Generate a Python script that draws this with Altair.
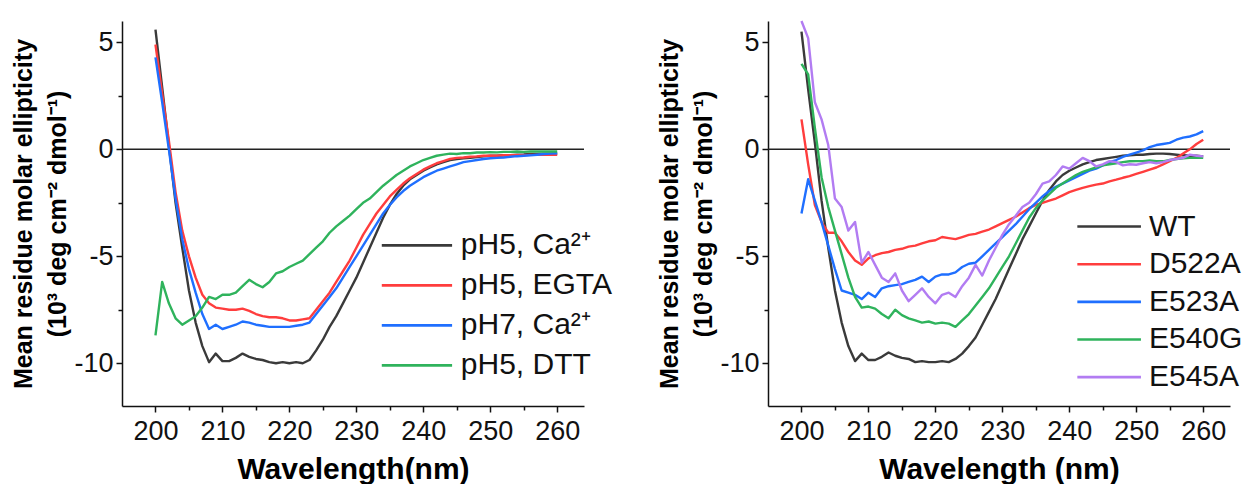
import altair as alt
import pandas as pd

wavelength = list(range(200, 261))

left_names = ["pH5, Ca²⁺", "pH5, EGTA", "pH7, Ca²⁺", "pH5, DTT"]
left_colors = ["#3a3a3a", "#ff3d3d", "#1f6fff", "#2fb35c"]

ph5_ca = [5.6, 2.9, 0.2, -2.5, -4.6, -6.6, -8.1, -9.2, -9.95, -9.55,
          -9.9, -9.9, -9.75, -9.55, -9.7, -9.8, -9.85, -9.95, -10.0, -9.95,
          -10.0, -9.95, -10.0, -9.85, -9.4, -8.9, -8.3, -7.8, -7.2, -6.6,
          -6.0, -5.3, -4.6, -3.9, -3.2, -2.6, -2.1, -1.7, -1.4, -1.2,
          -1.0, -0.85, -0.7, -0.6, -0.5, -0.45, -0.42, -0.4, -0.36, -0.33,
          -0.3, -0.3, -0.28, -0.27, -0.25, -0.24, -0.22, -0.22, -0.2, -0.2,
          -0.2]
ph5_egta = [4.9, 2.6, 0.4, -2.0, -3.8, -5.0, -6.0, -6.8, -7.2, -7.4,
            -7.45, -7.5, -7.5, -7.45, -7.55, -7.7, -7.8, -7.85, -7.85, -7.9,
            -8.0, -8.0, -7.95, -7.9, -7.5, -7.1, -6.7, -6.2, -5.7, -5.2,
            -4.6, -4.0, -3.5, -3.0, -2.6, -2.2, -1.9, -1.6, -1.35, -1.15,
            -0.95, -0.8, -0.65, -0.55, -0.45, -0.4, -0.38, -0.35, -0.33, -0.3,
            -0.3, -0.3, -0.28, -0.28, -0.27, -0.27, -0.26, -0.26, -0.25, -0.25,
            -0.25]
ph7_ca = [4.3, 2.2, 0.0, -2.3, -4.2, -5.6, -6.7, -7.7, -8.4, -8.2,
          -8.4, -8.3, -8.2, -8.05, -8.1, -8.2, -8.25, -8.3, -8.3, -8.3,
          -8.3, -8.25, -8.2, -8.1, -7.7, -7.3, -6.9, -6.5, -6.0, -5.5,
          -5.0, -4.5, -4.0, -3.5, -3.0, -2.6, -2.25, -1.95, -1.7, -1.5,
          -1.3, -1.15, -1.0, -0.9, -0.8, -0.7, -0.6, -0.55, -0.5, -0.45,
          -0.42, -0.4, -0.38, -0.35, -0.32, -0.3, -0.28, -0.25, -0.22, -0.2,
          -0.18]
ph5_dtt = [-8.7, -6.2, -7.2, -7.9, -8.2, -8.0, -7.8, -7.4, -6.9, -7.0,
           -6.8, -6.8, -6.7, -6.4, -6.1, -6.3, -6.45, -6.2, -5.8, -5.7,
           -5.5, -5.35, -5.2, -4.9, -4.6, -4.3, -3.9, -3.6, -3.35, -3.1,
           -2.8, -2.5, -2.3, -2.0, -1.7, -1.45, -1.2, -1.0, -0.8, -0.65,
           -0.5, -0.4, -0.3, -0.25, -0.2, -0.22, -0.18, -0.18, -0.15, -0.15,
           -0.13, -0.14, -0.12, -0.12, -0.1, -0.12, -0.1, -0.1, -0.1, -0.1,
           -0.1]

right_names = ["WT", "D522A", "E523A", "E540G", "E545A"]
right_colors = ["#3a3a3a", "#ff3d3d", "#1f6fff", "#2fb35c", "#b27cf2"]

wt = [5.5, 2.8, 0.3, -2.4, -4.6, -6.6, -8.1, -9.2, -9.9, -9.55,
      -9.85, -9.85, -9.7, -9.5, -9.65, -9.75, -9.8, -9.95, -9.9, -9.95,
      -9.95, -9.9, -9.95, -9.8, -9.55, -9.2, -8.8, -8.2, -7.6, -7.0,
      -6.3, -5.6, -4.9, -4.2, -3.6, -3.0, -2.4, -1.9, -1.5, -1.2,
      -1.0, -0.85, -0.7, -0.6, -0.5, -0.45, -0.4, -0.35, -0.3, -0.28,
      -0.25, -0.25, -0.22, -0.2, -0.2, -0.22, -0.25, -0.28, -0.3, -0.3,
      -0.33]
d522a = [1.4, -0.7, -2.6, -3.4, -3.9, -3.9, -4.3, -4.8, -5.2, -5.4,
         -5.1, -4.95, -4.85, -4.8, -4.7, -4.65, -4.55, -4.5, -4.4, -4.3,
         -4.25, -4.1, -4.15, -4.2, -4.1, -4.0, -3.95, -3.85, -3.75, -3.6,
         -3.45, -3.3, -3.15, -2.95, -2.75, -2.6, -2.5, -2.4, -2.3, -2.15,
         -2.0, -1.9, -1.8, -1.72, -1.65, -1.6, -1.5, -1.42, -1.33, -1.25,
         -1.15, -1.05, -0.95, -0.85, -0.7, -0.55, -0.4, -0.2, 0.0, 0.25,
         0.45]
e523a = [-3.0, -1.4, -2.4, -3.4, -4.5, -5.6, -6.6, -6.7, -6.8, -7.0,
         -6.7, -6.9, -6.5, -6.4, -6.35, -6.3, -6.2, -6.1, -5.95, -6.2,
         -5.95, -5.85, -5.85, -5.75, -5.5, -5.35, -5.3, -5.0, -4.7, -4.4,
         -4.1, -3.8, -3.5, -3.15, -2.8, -2.5, -2.2, -1.95, -1.75, -1.6,
         -1.45, -1.3, -1.15, -1.0, -0.9, -0.75, -0.6, -0.5, -0.35, -0.25,
         -0.15, -0.05, 0.1, 0.2, 0.25, 0.3, 0.45, 0.55, 0.6, 0.7,
         0.85]
e540g = [4.0, 3.5, 1.0, -1.3, -2.7, -3.8, -4.9, -6.0, -6.9, -7.4,
         -7.35, -7.45, -7.7, -7.9, -7.5, -7.75, -7.9, -8.0, -8.1, -8.05,
         -8.15, -8.1, -8.15, -8.3, -8.0, -7.7, -7.3, -6.9, -6.5, -6.0,
         -5.5, -5.0, -4.4, -3.8, -3.2, -2.75, -2.4, -2.1, -1.8, -1.6,
         -1.4, -1.2, -1.05, -0.95, -0.85, -0.75, -0.7, -0.65, -0.6, -0.56,
         -0.55, -0.55, -0.52, -0.55, -0.56, -0.5, -0.45, -0.42, -0.4, -0.4,
         -0.4]
e545a = [6.0, 5.2, 2.2, 1.4, 0.2, -2.3, -2.7, -3.8, -3.4, -5.3,
         -4.8, -5.4, -6.0, -6.2, -5.8, -6.6, -7.1, -6.8, -6.5, -6.9,
         -7.2, -6.8, -6.7, -6.9, -6.4, -6.0, -5.4, -5.9, -5.2, -4.6,
         -4.0, -3.5, -3.1, -2.7, -2.5, -2.1, -1.6, -1.5, -1.2, -0.8,
         -0.9, -0.65, -0.4, -0.55, -0.8, -0.7, -0.55, -0.6, -0.75, -0.7,
         -0.72, -0.65, -0.6, -0.65, -0.6, -0.5, -0.45, -0.4, -0.25, -0.3,
         -0.33]

y_major = [-10, -5, 0, 5]
y_minor = [-7.5, -2.5, 2.5]
x_major = [200, 210, 220, 230, 240, 250, 260]
x_minor = [205, 215, 225, 235, 245, 255]
y_title = ["Mean residue molar ellipticity", "(10³ deg cm⁻² dmol⁻¹)"]

FONT = "Liberation Sans"
W, H = 462, 385


def long_df(names, series):
    rows = []
    for order, (n, vals) in enumerate(zip(names, series)):
        for w, v in zip(wavelength, vals):
            rows.append({"series": n, "order": order, "wavelength": w, "value": v})
    return pd.DataFrame(rows)


def panel(names, colors, series, xtitle, leg_top, leg_step, lx1, lx2, lxt):
    df = long_df(names, series)
    xs = alt.Scale(domain=[195, 264], nice=False, zero=False)
    ys = alt.Scale(domain=[-12, 6], nice=False, zero=False)
    cs = alt.Scale(domain=names, range=colors)

    lines = alt.Chart(df).mark_line(strokeWidth=2.4, strokeJoin="round").encode(
        x=alt.X("wavelength:Q", scale=xs, axis=alt.Axis(
            values=x_major, title=xtitle, orient="bottom", tickSize=6,
            labelFontSize=27, titleFontSize=30, titleFontWeight="bold",
            labelPadding=6, titlePadding=10)),
        y=alt.Y("value:Q", scale=ys, axis=alt.Axis(
            values=y_major, title=y_title, orient="left", tickSize=6,
            labelFontSize=27, titleFontSize=25, titleFontWeight="bold",
            labelExpr="'' + datum.value", labelPadding=3, titlePadding=3,
            titleLineHeight=34)),
        color=alt.Color("series:N", scale=cs, legend=None),
        order=alt.Order("order:Q"),
    )
    minor = alt.Chart(df).mark_line(opacity=0).encode(
        x=alt.X("wavelength:Q", scale=xs, axis=alt.Axis(
            values=x_minor, labels=False, title=None, orient="bottom",
            tickSize=4, domain=False)),
        y=alt.Y("value:Q", scale=ys, axis=alt.Axis(
            values=y_minor, labels=False, title=None, orient="left",
            tickSize=4, domain=False)),
    )
    zero = alt.Chart(pd.DataFrame({"z": [0]})).mark_rule(
        color="#222", strokeWidth=1.5).encode(
        y=alt.Y("z:Q", scale=ys, axis=None))

    leg_df = pd.DataFrame({"series": names, "idx": list(range(len(names)))})
    leg = alt.Chart(leg_df).transform_calculate(
        ly=f"{leg_top} - {leg_step} * datum.idx",
        x1=f"{lx1}", x2=f"{lx2}", xt=f"{lxt}")
    leg_lines = leg.mark_rule(strokeWidth=2.6).encode(
        x=alt.X("x1:Q", scale=xs, axis=None), x2="x2:Q",
        y=alt.Y("ly:Q", scale=ys, axis=None),
        color=alt.Color("series:N", scale=cs, legend=None))
    leg_text = leg.mark_text(align="left", baseline="middle", fontSize=30,
                             font=FONT, color="#111").encode(
        x=alt.X("xt:Q", scale=xs, axis=None),
        y=alt.Y("ly:Q", scale=ys, axis=None),
        text="series:N")

    return alt.layer(zero, minor, lines, leg_lines, leg_text).resolve_axis(
        x="independent", y="independent").properties(width=W, height=H)


left = panel(left_names, left_colors, [ph5_ca, ph5_egta, ph7_ca, ph5_dtt],
             "Wavelength(nm)", -4.49, 1.87, 233.8, 244.3, 245.6)
right = panel(right_names, right_colors, [wt, d522a, e523a, e540g, e545a],
              "Wavelength (nm)", -3.61, 1.76, 241.2, 250.7, 251.9)

chart = alt.hconcat(left, right, spacing=45).resolve_scale(
    color="independent"
).properties(
    padding={"left": 3, "top": 11, "right": 0, "bottom": 0}
).configure_view(stroke=None).configure_axis(
    domainColor="#111", domainWidth=1.5, tickColor="#111", tickWidth=1.5,
    labelColor="#111", titleColor="#000", labelFont=FONT, titleFont=FONT,
    grid=False)

chart.save("out.html", embed_options={"renderer": "svg", "actions": False})
